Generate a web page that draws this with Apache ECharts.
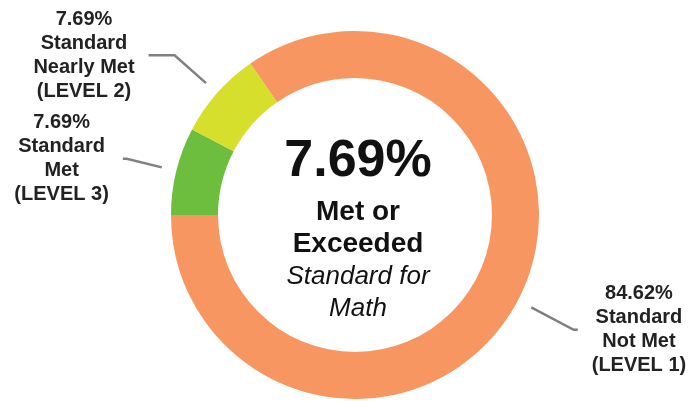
<!DOCTYPE html>
<html>
<head>
<meta charset="utf-8">
<script src="https://cdn.jsdelivr.net/npm/echarts@6/dist/echarts.min.js"></script>
<style>
  html, body { margin: 0; padding: 0; background: #fff; }
  #chart { width: 691px; height: 401px; }
</style>
</head>
<body>
<div id="chart"></div>
<script>
// 各等级数据
const values = [7.69, 7.69, 84.62];
const percentLabels = ['7.69%', '7.69%', '84.62%'];
const statusNames = ['Met', 'Nearly Met', 'Not Met'];
const levelLabels = ['(LEVEL 3)', '(LEVEL 2)', '(LEVEL 1)'];
// 中心文字
const centerLines = ['7.69%', 'Met or', 'Exceeded', 'Standard for', 'Math'];

// 颜色
const colors = ['#6dbd3f', '#d5df2c', '#f79660'];
const font = '"Liberation Sans", Arial, sans-serif';

const chart = echarts.init(document.getElementById('chart'));

// 引导线长度
const lineLen = [36, 42, 48];
const lineLen2 = [4, 26, 4];

const ringData = values.map((v, i) => ({
  name: statusNames[i],
  value: v,
  itemStyle: { color: colors[i] },
}));

const labelData = values.map((v, i) => ({
  name: statusNames[i],
  value: v,
  labelLine: { length: lineLen[i], length2: lineLen2[i] },
}));

const centerStyle = [
  { y: 162, size: 52, weight: 'bold', style: 'normal' },
  { y: 212, size: 28, weight: 'bold', style: 'normal' },
  { y: 244, size: 28, weight: 'bold', style: 'normal' },
  { y: 277, size: 26, weight: 'normal', style: 'italic' },
  { y: 309, size: 26, weight: 'normal', style: 'italic' },
];

const option = {
  backgroundColor: '#fff',
  animation: false,
  graphic: centerLines.map((t, i) => ({
    type: 'text',
    x: 358,
    y: centerStyle[i].y,
    silent: true,
    style: {
      text: t,
      fill: '#111',
      fontSize: centerStyle[i].size,
      fontWeight: centerStyle[i].weight,
      fontStyle: centerStyle[i].style,
      fontFamily: font,
      align: 'center',
      verticalAlign: 'middle',
      textAlign: 'center',
      textVerticalAlign: 'middle',
    },
  })),
  series: [
    {
      // 圆环
      type: 'pie',
      center: [355, 215],
      radius: [137, 184],
      startAngle: 180,
      silent: true,
      label: { show: false },
      labelLine: { show: false },
      data: ringData,
    },
    {
      // 标签（透明的外圈，让引导线与圆环留出间隙）
      type: 'pie',
      center: [355, 215],
      radius: [198, 199],
      startAngle: 180,
      silent: true,
      avoidLabelOverlap: false,
      itemStyle: { color: 'rgba(0,0,0,0)' },
      label: {
        show: true,
        position: 'outside',
        distanceToLabelLine: 14,
        bleedMargin: 0,
        color: '#222',
        formatter: (p) =>
          '{b|' + percentLabels[p.dataIndex] + '}\n{b|Standard}\n{b|' +
          statusNames[p.dataIndex] + '}\n{b|' + levelLabels[p.dataIndex] + '}',
        rich: {
          b: { fontSize: 20, lineHeight: 24, fontFamily: font, fontWeight: 'bold', color: '#222', align: 'center' },
        },
      },
      labelLine: {
        show: true,
        lineStyle: { color: '#808080', width: 2.5 },
      },
      data: labelData,
    },
  ],
};

chart.setOption(option);
</script>
</body>
</html>
